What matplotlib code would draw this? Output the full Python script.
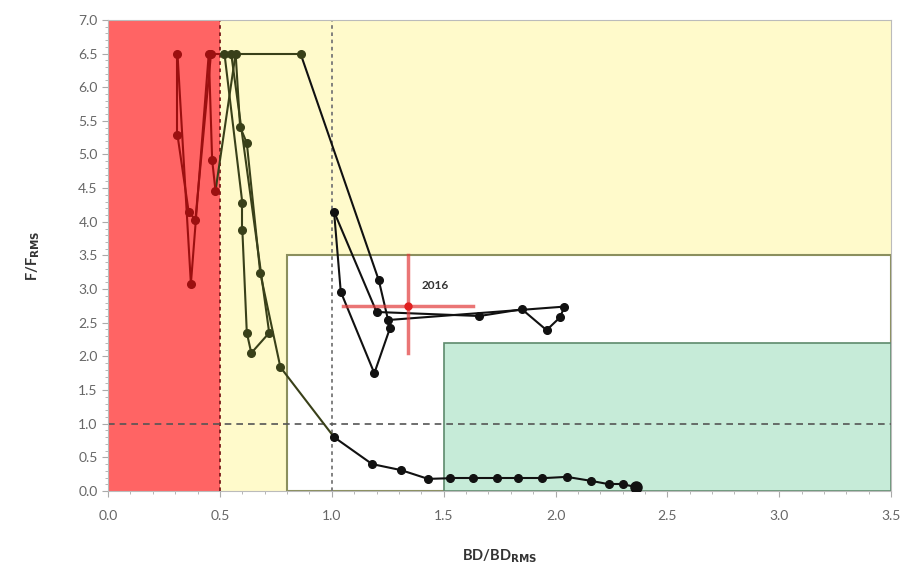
import matplotlib
matplotlib.use('Agg')
import matplotlib.pyplot as plt
from matplotlib.patches import Rectangle
from matplotlib.ticker import MultipleLocator

plt.rcParams['font.family'] = ['Lato', 'DejaVu Sans']

# stock trajectory (chronological), BD/BD_RMS and F/F_RMS
bd = [2.36, 2.30, 2.24, 2.16, 2.05, 1.94, 1.83, 1.74, 1.63, 1.53, 1.43, 1.31, 1.18, 1.01,
      0.77, 0.68, 0.62, 0.59, 0.57,
      0.48, 0.465, 0.45, 0.37, 0.31, 0.31, 0.36, 0.39, 0.46,
      0.52, 0.60, 0.60, 0.62, 0.64, 0.72, 0.55, 0.86,
      1.21, 1.26, 1.19, 1.04, 1.01, 1.20, 1.66, 1.85, 1.96, 2.02, 2.04, 1.25]
f = [0.06, 0.10, 0.10, 0.15, 0.21, 0.19, 0.19, 0.19, 0.19, 0.19, 0.18, 0.31, 0.40, 0.80,
     1.84, 3.24, 5.17, 5.41, 6.50,
     4.46, 4.92, 6.50, 3.08, 6.50, 5.29, 4.15, 4.03, 6.50,
     6.50, 4.28, 3.88, 2.35, 2.05, 2.35, 6.50, 6.50,
     3.13, 2.42, 1.75, 2.96, 4.15, 2.66, 2.60, 2.70, 2.39, 2.58, 2.74, 2.54]

# 2016 assessment estimate with confidence range
est_bd, est_f = 1.34, 2.75
est_bd_range = [1.05, 1.63]
est_f_range = [2.05, 3.50]

blim, bpa = 0.5, 0.8
fpa_white, f_green, b_green = 3.5, 2.2, 1.5


def zone_color(x, y):
    if x < 0.5:
        return '#9c1010'
    if x < 0.9:
        return '#394019'
    return '#111111'


fig = plt.figure(figsize=(9.01, 5.70), dpi=100)
ax = fig.add_axes([0.12, 0.1386, 0.869, 0.8265])

ax.add_patch(Rectangle((0, 0), blim, 7, color='#ff6464', zorder=0, lw=0))
ax.add_patch(Rectangle((blim, 0), 3.5 - blim, 7, color='#fffacb', zorder=0, lw=0))
ax.add_patch(Rectangle((bpa, 0), 3.5 - bpa, fpa_white, facecolor='white', edgecolor='#8b8f5e',
                       lw=1.5, zorder=0.5))
ax.add_patch(Rectangle((b_green, 0), 3.5 - b_green, f_green, facecolor='#c6ebd8', edgecolor='#5e8a6c',
                       lw=1.2, zorder=0.6))

ax.axvline(0.5, color='#7a1a1a', ls=(0, (2, 2)), lw=1.3, zorder=1)
ax.axvline(1.0, color='#777777', ls=(0, (2, 2)), lw=1.3, zorder=1)
ax.axhline(1.0, color='#555555', ls=(0, (4, 3)), lw=1.2, zorder=1)

# trajectory segments, coloured by zone
for i in range(len(bd) - 1):
    mx = (bd[i] + bd[i + 1]) / 2
    my = (f[i] + f[i + 1]) / 2
    ax.plot(bd[i:i + 2], f[i:i + 2], color=zone_color(mx, my), lw=1.5, zorder=3)
for x, y in zip(bd, f):
    ax.plot(x, y, 'o', color=zone_color(x, y), ms=5.5, zorder=4)
ax.plot(bd[0], f[0], 'o', color='#111111', ms=8, zorder=4)

# 2016 estimate
ax.plot(est_bd_range, [est_f, est_f], color='#e23a3a', lw=2.5, alpha=0.7, zorder=5)
ax.plot([est_bd, est_bd], est_f_range, color='#e23a3a', lw=2.5, alpha=0.7, zorder=5)
ax.plot(est_bd, est_f, 'o', color='#e02020', ms=5, zorder=6)
ax.text(1.40, 3.0, '2016', fontsize=8.5, fontweight='bold', color='#333333', zorder=6)

ax.set_xlim(0, 3.5)
ax.set_ylim(0, 7)
ax.xaxis.set_major_locator(MultipleLocator(0.5))
ax.yaxis.set_major_locator(MultipleLocator(0.5))
ax.xaxis.set_minor_locator(MultipleLocator(0.1))
ax.yaxis.set_minor_locator(MultipleLocator(0.1))
ax.set_xticklabels(['{:.1f}'.format(v) for v in ax.get_xticks()])
ax.set_yticklabels(['{:.1f}'.format(v) for v in ax.get_yticks()])
ax.tick_params(which='both', colors='#aaaaaa', labelcolor='#666666', labelsize=10, direction='out')
ax.tick_params(which='major', length=4)
ax.tick_params(which='minor', length=2)
ax.tick_params(axis='x', pad=10)
for s in ax.spines.values():
    s.set_color('#bbbbbb')

ax.set_xlabel('BD/BD$_{\\mathbf{RMS}}$', fontsize=10.5, fontweight='bold', color='#333333', labelpad=18)
ax.set_ylabel('F/F$_{\\mathbf{RMS}}$', fontsize=10.5, fontweight='bold', color='#333333', labelpad=26)

fig.savefig('out.png', dpi=100)
